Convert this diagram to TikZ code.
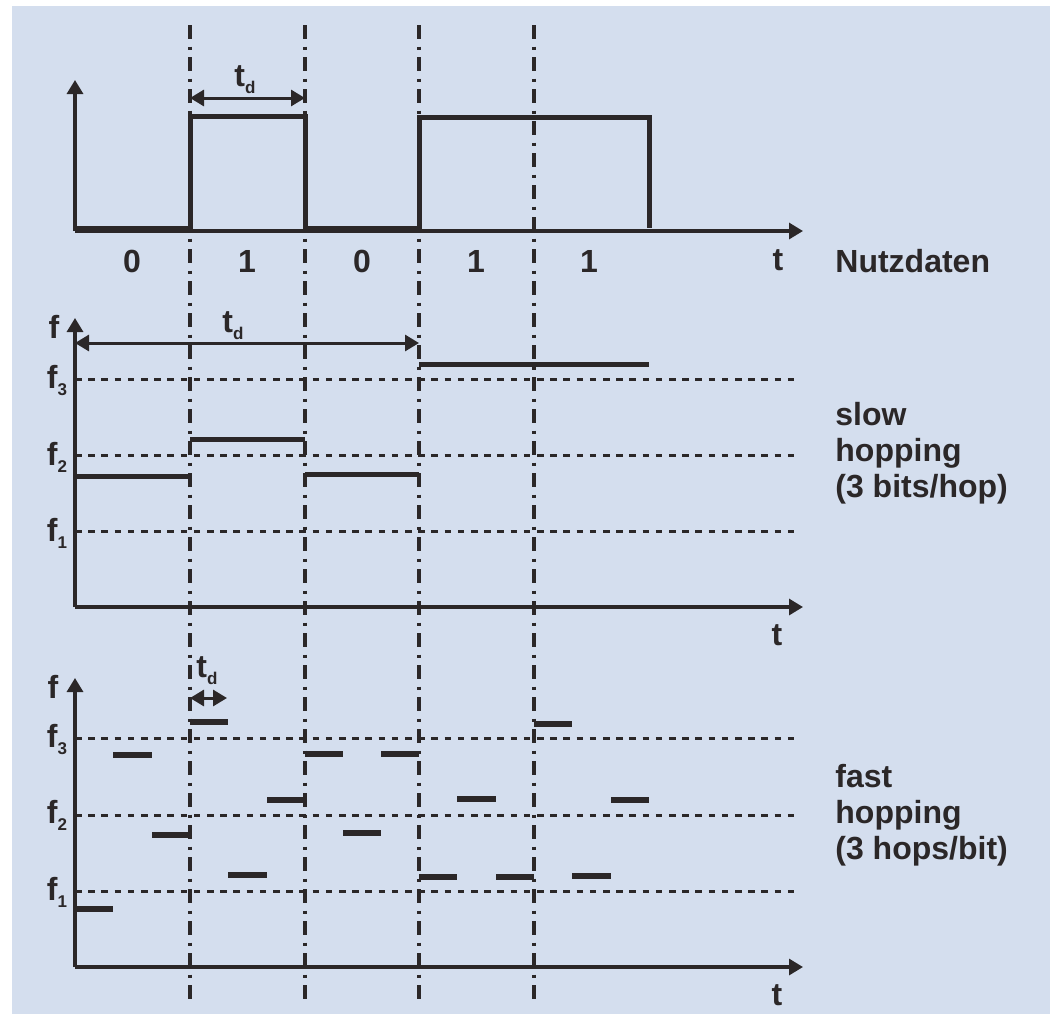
\documentclass[tikz,border=0pt]{standalone}
\usepackage{fontspec}
\setmainfont{Liberation Sans}
\usetikzlibrary{arrows.meta}
\definecolor{panelblue}{HTML}{D4DEEE}
\definecolor{inkgray}{HTML}{2B2728}
\newcommand{\subtxt}[2]{#1\raisebox{-3.5pt}{\fontsize{8.5}{8.5}\selectfont #2}}

\begin{document}
\begin{tikzpicture}[
      x=0.5pt,y=-0.5pt,
      >={Triangle[length=7pt,width=8pt]},
      timeaxis/.style={->,line width=1.6pt,draw=inkgray},
      spanarrow/.style={<->,line width=1.5pt,draw=inkgray},
      freqline/.style={dash pattern=on 3.3pt off 3.3pt,line width=1.5pt,draw=inkgray},
      bitline/.style={dash pattern=on 7pt off 3.75pt on 1.5pt off 3.75pt,
                   line width=1.6pt,draw=inkgray},
      datasignal/.style={line width=2.5pt,draw=inkgray},
      slowbar/.style={line width=2.5pt,draw=inkgray},
      hopbar/.style={line width=3pt,draw=inkgray},
      lbl/.style={text=inkgray,inner sep=0pt,anchor=base,
                  font=\fontsize{16}{18}\selectfont\bfseries}
    ]
    \useasboundingbox (0,0) rectangle (1050,1014);
    \fill[panelblue] (12,6) rectangle (1050,1014);

    % frequency levels
    \draw[freqline] (75,379) -- (800,379) (75,455) -- (800,455) (75,531) -- (800,531);
    \draw[freqline] (75,738) -- (800,738) (75,815) -- (800,815) (75,891) -- (800,891);

    % bit boundaries
    \draw[bitline] (190,25) -- (190,1002);
    \draw[bitline] (305,25) -- (305,1002);
    \draw[bitline] (419,25) -- (419,1002);
    \draw[bitline] (534,25) -- (534,1002);

    % Nutzdaten
    \draw[timeaxis] (75,231) -- (803,231);
    \draw[timeaxis] (75,231) -- (75,80);
    \draw[datasignal] (75,228) -- (190,228) -- (190,116) -- (305,116) -- (305,228)
      -- (419,228) -- (419,117) -- (649,117) -- (649,228);
    \draw[spanarrow] (190,98) -- (305,98);
    \node[lbl] (tdtop) at (245,86) {\subtxt{t}{d}};
    \node[lbl] (bitA) at (132,272) {0};
    \node[lbl] (bitB) at (247,272) {1};
    \node[lbl] (bitC) at (362,272) {0};
    \node[lbl] (bitD) at (476,272) {1};
    \node[lbl] (bitE) at (589,272) {1};
    \node[lbl] (ttop) at (778,270) {t};
    \node[lbl,anchor=base west] (nutz) at (835,272) {Nutzdaten};

    % slow hopping
    \draw[timeaxis] (75,607) -- (803,607);
    \draw[timeaxis] (75,607) -- (75,318);
    \draw[slowbar] (75,476) -- (190,476) (190,439) -- (305,439)
      (305,474) -- (419,474) (419,364) -- (649,364);
    \draw[spanarrow] (75,343) -- (419,343);
    \node[lbl] (tdslow) at (233,332) {\subtxt{t}{d}};
    \node[lbl] (fslow) at (54,338) {f};
    \node[lbl] (fslowC) at (57,388) {\subtxt{f}{3}};
    \node[lbl] (fslowB) at (57,465) {\subtxt{f}{2}};
    \node[lbl] (fslowA) at (57,541) {\subtxt{f}{1}};
    \node[lbl] (tslow) at (777,645) {t};
    \node[lbl,anchor=west,align=left] (slowtxt) at (835,453)
      {slow\\hopping\\(3 bits/hop)};

    % fast hopping
    \draw[timeaxis] (75,967) -- (803,967);
    \draw[timeaxis] (75,967) -- (75,678);
    \draw[hopbar] (75,909) -- (113,909) (113,755) -- (152,755) (152,835) -- (190,835)
      (190,722) -- (228,722) (228,875) -- (267,875) (267,800) -- (305,800)
      (305,754) -- (343,754) (343,833) -- (381,833) (381,754) -- (419,754)
      (419,877) -- (457,877) (457,799) -- (496,799) (496,877) -- (534,877)
      (534,724) -- (572,724) (572,876) -- (611,876) (611,800) -- (649,800);
    \draw[spanarrow] (190,698) -- (227,698);
    \node[lbl] (tdfast) at (207,677) {\subtxt{t}{d}};
    \node[lbl] (ffast) at (53,698) {f};
    \node[lbl] (ffastC) at (57,747) {\subtxt{f}{3}};
    \node[lbl] (ffastB) at (57,823) {\subtxt{f}{2}};
    \node[lbl] (ffastA) at (57,900) {\subtxt{f}{1}};
    \node[lbl] (tfast) at (777,1005) {t};
    \node[lbl,anchor=west,align=left] (fasttxt) at (835,815)
      {fast\\hopping\\(3 hops/bit)};
  \end{tikzpicture}
\end{document}
